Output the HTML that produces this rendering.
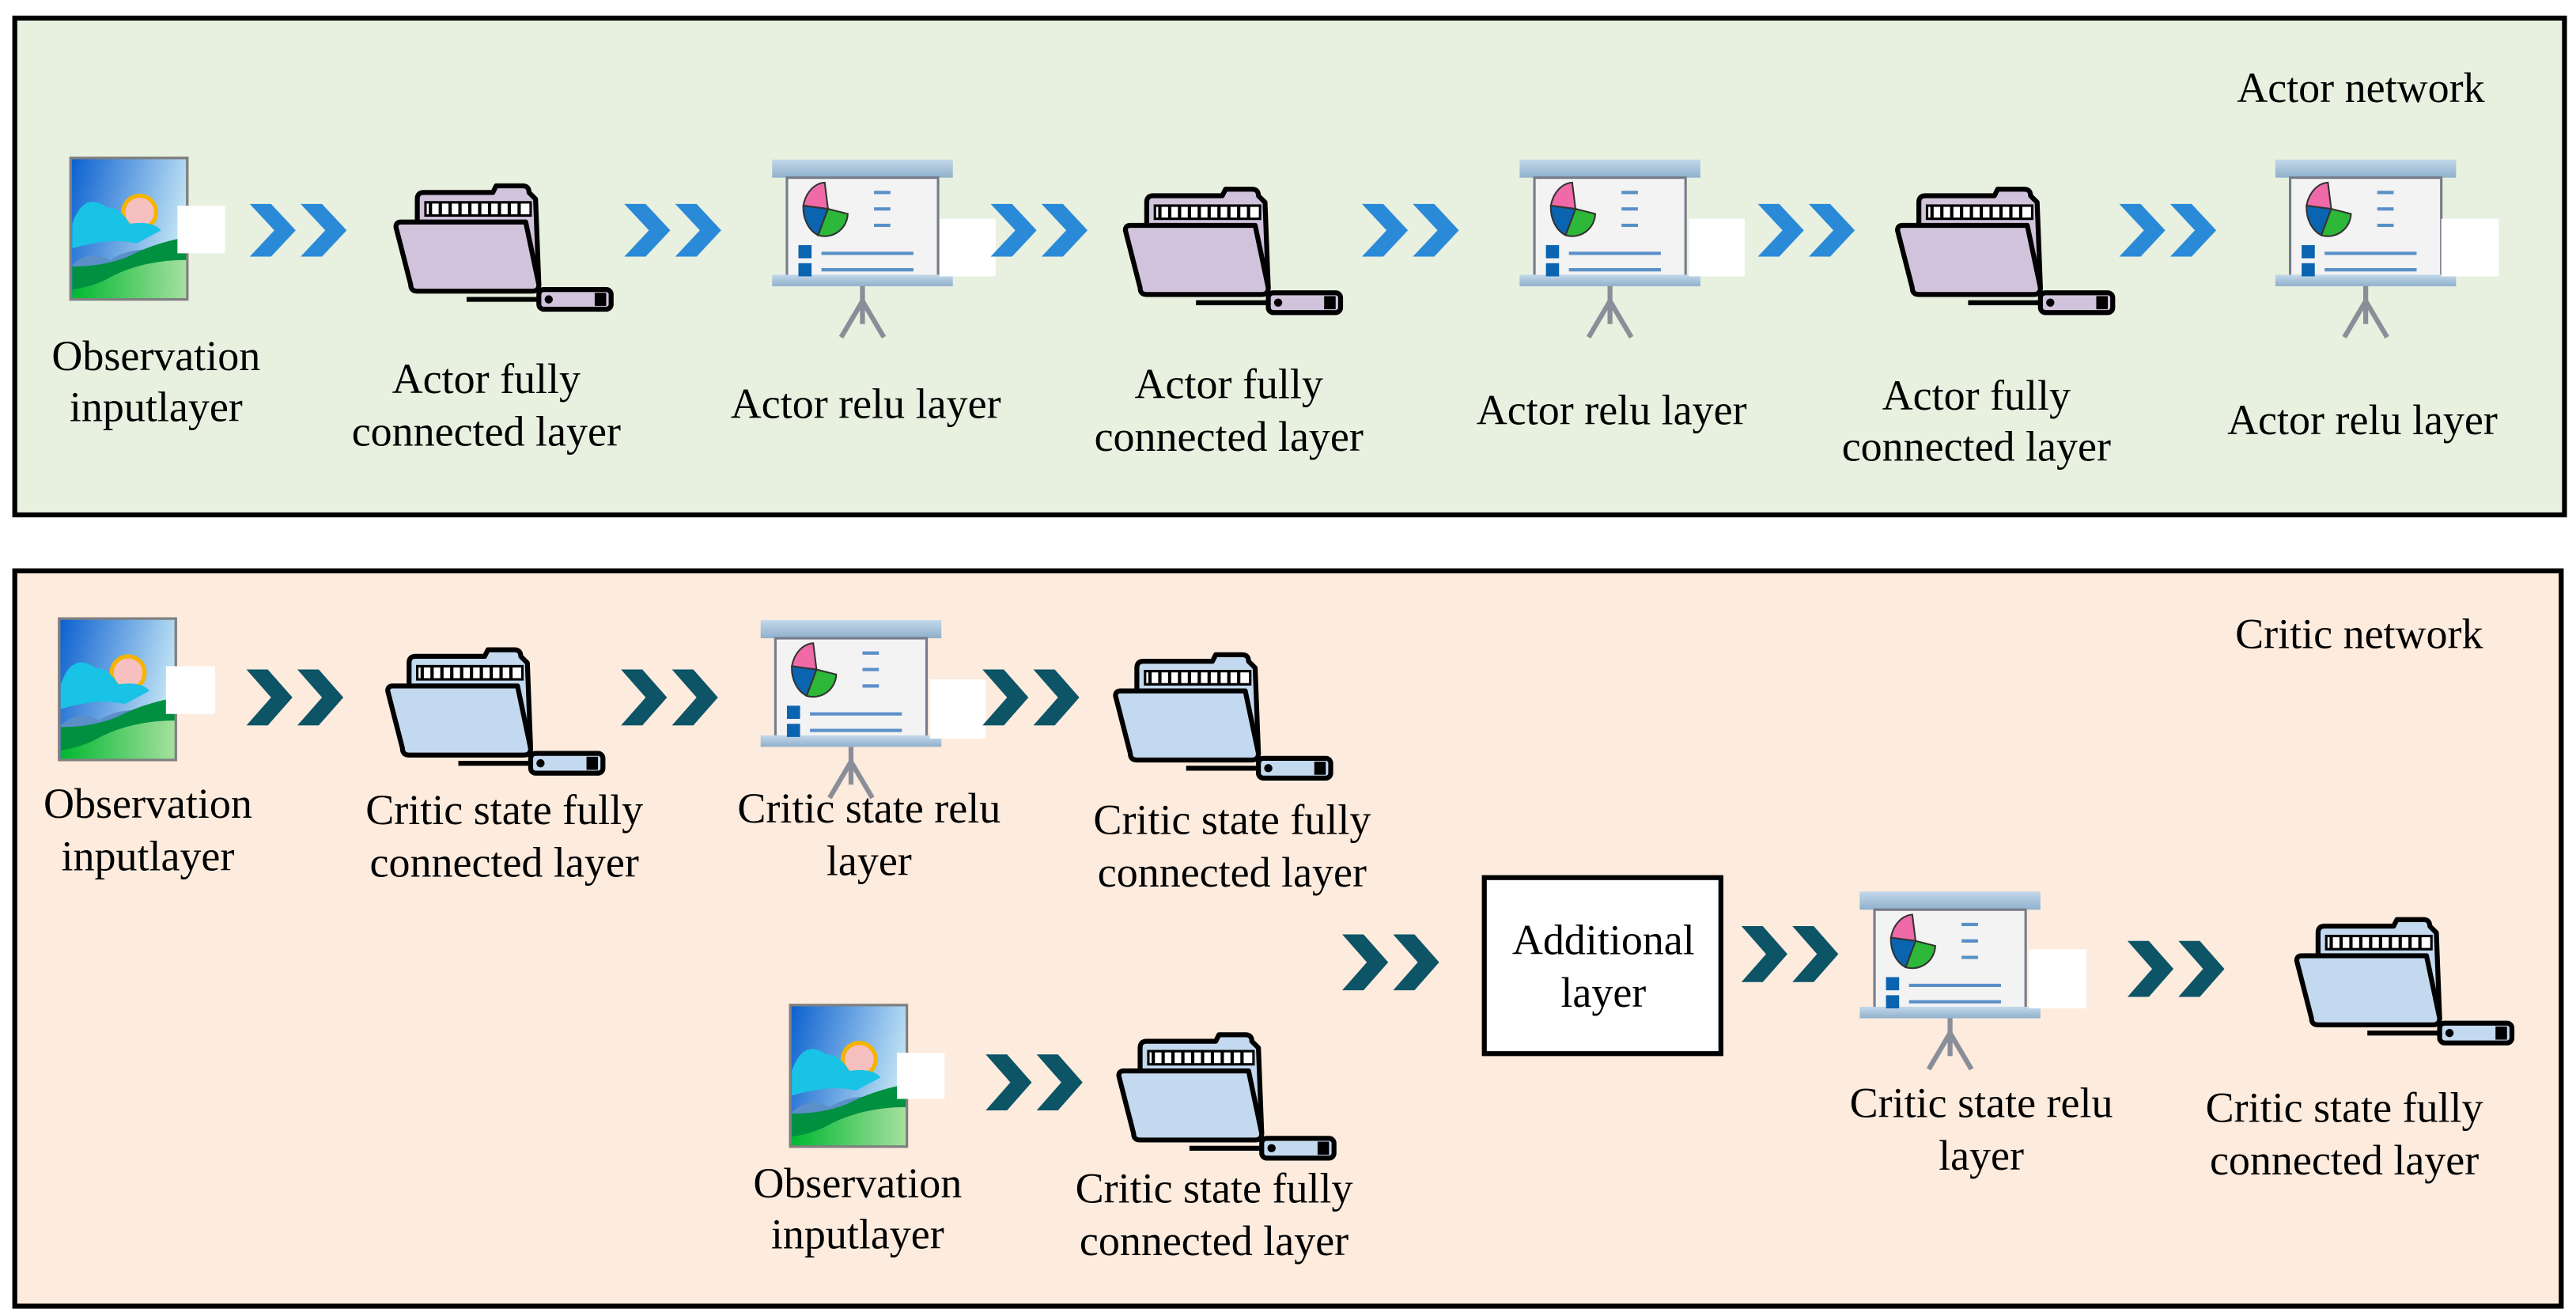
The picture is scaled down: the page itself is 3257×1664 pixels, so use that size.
<!DOCTYPE html>
<html><head><meta charset="utf-8"><style>
html,body{margin:0;padding:0;background:#fff}
svg{display:block}
text{font-family:"Liberation Serif",serif;font-size:26px;fill:#000;text-anchor:middle}
</style></head><body>
<svg width="3257" height="1664" viewBox="0 0 1568 800" preserveAspectRatio="none" xmlns="http://www.w3.org/2000/svg">
<defs>
<linearGradient id="sky" x1="0" y1="0" x2="1" y2="0.3"><stop offset="0" stop-color="#0a5fcf"/><stop offset="1" stop-color="#bfe2f4"/></linearGradient>
<linearGradient id="hill" x1="0" y1="0" x2="1" y2="0"><stop offset="0" stop-color="#00b830"/><stop offset="1" stop-color="#a8e0a0"/></linearGradient>
<linearGradient id="bar" x1="0" y1="0" x2="0" y2="1"><stop offset="0" stop-color="#c3d8ea"/><stop offset="1" stop-color="#8fb0cc"/></linearGradient>
<symbol id="obs" overflow="visible">
 <rect x="0" y="0" width="71" height="86" fill="url(#sky)" stroke="#808080" stroke-width="1.5"/>
 <circle cx="42" cy="33" r="10" fill="#f6c0c0" stroke="#f5b400" stroke-width="2.5"/>
 <path d="M1,40 Q8,20 22,30 Q30,30 36,40 Q50,38 55,44 L40,52 Q25,48 1,55Z" fill="#19c3e6"/>
 <path d="M1,65 Q12,55 24,62 Q40,52 60,58 L71,52 L71,70 L1,75Z" fill="#5a8fc8"/>
 <path d="M1,66 Q20,66 35,60 Q50,52 71,48 L71,86 L1,86Z" fill="#009040"/>
 <path d="M1,80 Q15,78 25,72 Q45,62 71,62 L71,86 L1,86Z" fill="url(#hill)"/>
 <rect x="0" y="0" width="71" height="86" fill="none" stroke="#808080" stroke-width="1.5"/>
</symbol>
<symbol id="pres" overflow="visible">
 <rect x="0" y="0" width="110" height="11" fill="url(#bar)"/>
 <rect x="9" y="11" width="92" height="60" fill="#f3f3f3" stroke="#777c8a" stroke-width="1.5"/>
 <rect x="0" y="70" width="110" height="7" fill="url(#bar)"/>
 <line x1="55" y1="77" x2="55" y2="100" stroke="#8a8e98" stroke-width="3"/>
 <line x1="55" y1="86" x2="42" y2="108" stroke="#8a8e98" stroke-width="3"/>
 <line x1="55" y1="86" x2="68" y2="108" stroke="#8a8e98" stroke-width="3"/>
 <path d="M34,30 L32,14 A14,18 0 0 0 19,28Z" fill="#f06aa8" stroke="#333" stroke-width="1"/>
 <path d="M34,30 L19,28 A14,18 0 0 0 28,46Z" fill="#0a64b0" stroke="#333" stroke-width="1"/>
 <path d="M34,30 L28,46 A14,14 0 0 0 46,33Z" fill="#2db83a" stroke="#333" stroke-width="1"/>
 <line x1="62" y1="20" x2="72" y2="20" stroke="#5a90c8" stroke-width="2"/>
 <line x1="62" y1="30" x2="72" y2="30" stroke="#5a90c8" stroke-width="2"/>
 <line x1="62" y1="40" x2="72" y2="40" stroke="#5a90c8" stroke-width="2"/>
 <rect x="16" y="52" width="8" height="8" fill="#0a64b0"/>
 <rect x="16" y="63" width="8" height="8" fill="#0a64b0"/>
 <line x1="30" y1="57" x2="86" y2="57" stroke="#5a90c8" stroke-width="2"/>
 <line x1="30" y1="67" x2="86" y2="67" stroke="#5a90c8" stroke-width="2"/>
</symbol>
<symbol id="folderA" overflow="visible">
 <path d="M14,6 Q14,2 18,2 L60,2 L62,-2 L78,-2 Q82,-2 82,2 L86,6 L88,58 L14,58Z" fill="#d1c3dc" stroke="#000" stroke-width="3" stroke-linejoin="round"/>
 <rect x="19" y="8" width="64" height="8" fill="#fff" stroke="#000" stroke-width="1.5"/>
 <path d="M22,8 v8 M28,8 v8 M34,8 v8 M40,8 v8 M46,8 v8 M52,8 v8 M58,8 v8 M64,8 v8 M70,8 v8 M76,8 v8" stroke="#000" stroke-width="2"/>
 <path d="M1,23 Q1,20 4,20 L80,20 L88,58 Q88,62 84,62 L14,62 Q10,62 10,58Z" fill="#d1c3dc" stroke="#000" stroke-width="3" stroke-linejoin="round"/>
 <line x1="44" y1="67" x2="88" y2="67" stroke="#000" stroke-width="3"/>
 <rect x="88" y="61" width="44" height="12" rx="3" fill="#d1c3dc" stroke="#000" stroke-width="3"/>
 <circle cx="94" cy="67" r="2.5" fill="#000"/>
 <rect x="122" y="63" width="7" height="8" fill="#000"/>
</symbol>
<symbol id="folderB" overflow="visible">
 <path d="M14,6 Q14,2 18,2 L60,2 L62,-2 L78,-2 Q82,-2 82,2 L86,6 L88,58 L14,58Z" fill="#c3d9ef" stroke="#000" stroke-width="3" stroke-linejoin="round"/>
 <rect x="19" y="8" width="64" height="8" fill="#fff" stroke="#000" stroke-width="1.5"/>
 <path d="M22,8 v8 M28,8 v8 M34,8 v8 M40,8 v8 M46,8 v8 M52,8 v8 M58,8 v8 M64,8 v8 M70,8 v8 M76,8 v8" stroke="#000" stroke-width="2"/>
 <path d="M1,23 Q1,20 4,20 L80,20 L88,58 Q88,62 84,62 L14,62 Q10,62 10,58Z" fill="#c3d9ef" stroke="#000" stroke-width="3" stroke-linejoin="round"/>
 <line x1="44" y1="67" x2="88" y2="67" stroke="#000" stroke-width="3"/>
 <rect x="88" y="61" width="44" height="12" rx="3" fill="#c3d9ef" stroke="#000" stroke-width="3"/>
 <circle cx="94" cy="67" r="2.5" fill="#000"/>
 <rect x="122" y="63" width="7" height="8" fill="#000"/>
</symbol>
<symbol id="chevA" overflow="visible"><path d="M0,0 H13 L28,16 L13,32 H0 L15,16Z M31,0 H44 L59,16 L44,32 H31 L46,16Z" fill="#2a8ad8"/></symbol>
<symbol id="chevB" overflow="visible"><path d="M0,0 H13 L28,17 L13,34 H0 L15,17Z M31,0 H44 L59,17 L44,34 H31 L46,17Z" fill="#0c5466"/></symbol>
</defs>

<rect x="9" y="11" width="1552" height="302" fill="#e8f0df" stroke="#000" stroke-width="3"/>
<text x="1437" y="62">Actor network</text>

<use href="#obs" x="43" y="96"/><rect x="108" y="125" width="29" height="29" fill="#fff"/>
<use href="#chevA" x="152" y="124"/>
<use href="#folderA" x="240" y="115"/>
<use href="#chevA" x="380" y="124"/>
<use href="#pres" x="470" y="97"/><rect x="572" y="133" width="34" height="35" fill="#fff"/>
<use href="#chevA" x="603" y="124"/>
<use href="#folderA" x="684" y="117"/>
<use href="#chevA" x="829" y="124"/>
<use href="#pres" x="925" y="97"/><rect x="1028" y="133" width="34" height="35" fill="#fff"/>
<use href="#chevA" x="1070" y="124"/>
<use href="#folderA" x="1154" y="117"/>
<use href="#chevA" x="1290" y="124"/>
<use href="#pres" x="1385" y="97"/><rect x="1486" y="133" width="35" height="35" fill="#fff"/>

<text x="95" y="225">Observation</text><text x="95" y="256">inputlayer</text>
<text x="296" y="239">Actor fully</text><text x="296" y="271">connected layer</text>
<text x="527" y="254">Actor relu layer</text>
<text x="748" y="242">Actor fully</text><text x="748" y="274">connected layer</text>
<text x="981" y="258">Actor relu layer</text>
<text x="1203" y="249">Actor fully</text><text x="1203" y="280">connected layer</text>
<text x="1438" y="264">Actor relu layer</text>

<rect x="9" y="347" width="1550" height="447" fill="#fdebdd" stroke="#000" stroke-width="3"/>
<text x="1436" y="394">Critic network</text>

<use href="#obs" x="36" y="376"/><rect x="101" y="405" width="30" height="29" fill="#fff"/>
<use href="#chevB" x="150" y="407"/>
<use href="#folderB" x="235" y="397"/>
<use href="#chevB" x="378" y="407"/>
<use href="#pres" x="463" y="377"/><rect x="566" y="413" width="34" height="36" fill="#fff"/>
<use href="#chevB" x="598" y="407"/>
<use href="#folderB" x="678" y="400"/>

<text x="90" y="497">Observation</text><text x="90" y="529">inputlayer</text>
<text x="307" y="501">Critic state fully</text><text x="307" y="533">connected layer</text>
<text x="529" y="500">Critic state  relu</text><text x="529" y="532">layer</text>
<text x="750" y="507">Critic state fully</text><text x="750" y="539">connected layer</text>

<use href="#obs" x="481" y="611"/><rect x="546" y="640" width="29" height="28" fill="#fff"/>
<use href="#chevB" x="600" y="641"/>
<use href="#folderB" x="680" y="631"/>
<text x="522" y="728">Observation</text><text x="522" y="759">inputlayer</text>
<text x="739" y="731">Critic state fully</text><text x="739" y="763">connected layer</text>

<use href="#chevB" x="817" y="568"/>
<rect x="903.5" y="533.5" width="144" height="107" fill="#fff" stroke="#000" stroke-width="3"/>
<text x="976" y="580">Additional</text><text x="976" y="612">layer</text>
<use href="#chevB" x="1060" y="563"/>
<use href="#pres" x="1132" y="542"/><rect x="1235" y="577" width="35" height="36" fill="#fff"/>
<use href="#chevB" x="1295" y="572"/>
<use href="#folderB" x="1397" y="561"/>
<text x="1206" y="679">Critic state  relu</text><text x="1206" y="711">layer</text>
<text x="1427" y="682">Critic state fully</text><text x="1427" y="714">connected layer</text>
</svg>
</body></html>
